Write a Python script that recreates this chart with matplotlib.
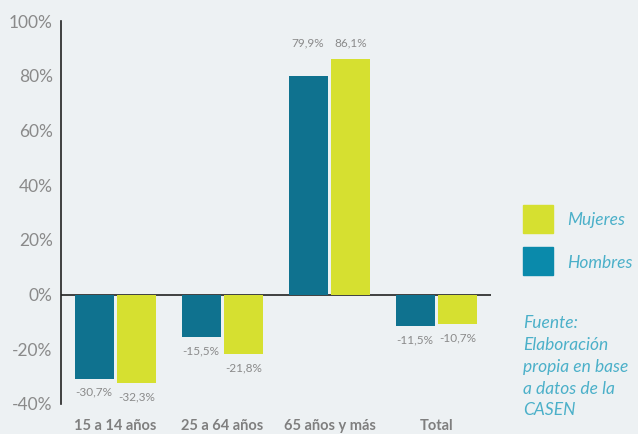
import matplotlib
matplotlib.use('Agg')
import matplotlib.pyplot as plt
from matplotlib.patches import Rectangle
import numpy as np

plt.rcParams['font.family'] = ['Lato', 'DejaVu Sans']

categories = ["15 a 14 años", "25 a 64 años", "65 años y más", "Total"]
hombres = [-30.7, -15.5, 79.9, -11.5]
mujeres = [-32.3, -21.8, 86.1, -10.7]
hombres_labels = ["-30,7%", "-15,5%", "79,9%", "-11,5%"]
mujeres_labels = ["-32,3%", "-21,8%", "86,1%", "-10,7%"]
yticks = [-40, -20, 0, 20, 40, 60, 80, 100]

bg = '#edf1f3'
c_hom = '#0f728f'
c_muj = '#d6e030'
c_txt = '#8a8a8a'
c_leg = '#4bb0c9'

fig = plt.figure(figsize=(6.38, 4.34), dpi=100, facecolor=bg)
ax = fig.add_axes([61 / 638, 1 - 404 / 434, 430 / 638, 383 / 434], facecolor=bg)

x = np.arange(len(categories))
w = 0.364
off = 0.2
b1 = ax.bar(x - off, hombres, w, color=c_hom)
b2 = ax.bar(x + off, mujeres, w, color=c_muj)

# positive values share one label row above the tallest bar
top_row = max(max(hombres), max(mujeres)) + 6
for bars, labs in ((b1, hombres_labels), (b2, mujeres_labels)):
    for b, lab in zip(bars, labs):
        v = b.get_height()
        cx = b.get_x() + b.get_width() / 2
        if v >= 0:
            ax.text(cx, top_row, lab, ha='center', va='center',
                    fontsize=8.5, color=c_txt)
        else:
            ax.annotate(lab, (cx, v), xytext=(0, -6),
                        textcoords='offset points', ha='center', va='top',
                        fontsize=8.5, color=c_txt)

ax.axhline(0, color='#222222', lw=1.2, zorder=0)
ax.set_xlim(-0.51, 3.51)
ax.set_ylim(-40, 100)
ax.set_yticks(yticks)
ax.set_yticklabels([f"{t}%" for t in yticks], fontsize=12.5, color=c_txt)
ax.set_xticks(x)
ax.set_xticklabels(categories, fontsize=10.5, fontweight='bold', color='#7f7f7f')
ax.tick_params(axis='both', length=0)
ax.tick_params(axis='x', pad=11)
ax.tick_params(axis='y', pad=6)
for s in ('top', 'right', 'bottom'):
    ax.spines[s].set_visible(False)
ax.spines['left'].set_color('#222222')
ax.spines['left'].set_linewidth(1.2)

# legend
fig.patches.append(Rectangle((523 / 638, 1 - 233 / 434), 30 / 638, 28 / 434,
                             transform=fig.transFigure, color=c_muj))
fig.patches.append(Rectangle((523 / 638, 1 - 275 / 434), 30 / 638, 28 / 434,
                             transform=fig.transFigure, color='#0a8aab'))
fig.text(567 / 638, 1 - 220 / 434, "Mujeres", fontsize=12.5, style='italic',
         color=c_leg, va='center')
fig.text(567 / 638, 1 - 263 / 434, "Hombres", fontsize=12.5, style='italic',
         color=c_leg, va='center')
fig.text(523 / 638, 1 - 315 / 434,
         "Fuente:\nElaboración\npropia en base\na datos de la\nCASEN",
         fontsize=12.5, style='italic', color=c_leg, va='top', linespacing=1.45)

fig.savefig('out.png', dpi=100, facecolor=bg)
